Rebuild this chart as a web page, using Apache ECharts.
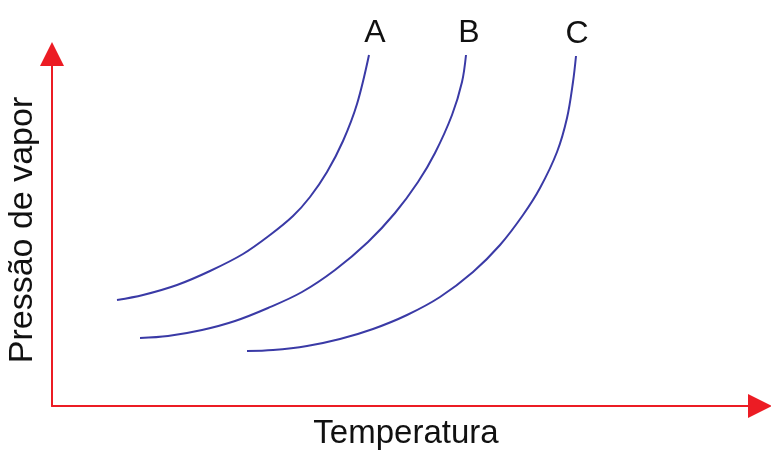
<!DOCTYPE html>
<html>
<head>
<meta charset="utf-8">
<script src="https://cdn.jsdelivr.net/npm/echarts@6/dist/echarts.min.js"></script>
<style>html,body{margin:0;padding:0;background:#fff}#c{width:771px;height:450px}</style>
</head>
<body>
<div id="c"></div>
<script>
// Curve data: [temperature, vapour pressure] in arbitrary units
const curveNames = ['A', 'B', 'C'];
const curveA = [[65,106],[91,111],[125,121],[158,135],[191,152],[218,171],[241,190],[258,209],[275,234],[291,265],[305,302],[317,351]];
const curveB = [[88,68],[116,70],[150,76],[183,85],[216,98],[250,114],[283,136],[316,164],[343,193],[366,224],[383,253],[400,291],[410,324],[414,351]];
const curveC = [[195,55],[221,56],[255,60],[288,67],[321,77],[355,91],[388,109],[421,134],[448,161],[471,191],[488,218],[505,254],[515,288],[521,324],[524,350]];
const xAxisName = 'Temperatura';
const yAxisName = 'Pressão de vapor';

const curves = [curveA, curveB, curveC];
const labelOffsets = [[6,0],[3,0],[1,0]];
const FONT = '"Liberation Sans", Arial, sans-serif';
const red = '#ec1c24';
const blue = '#3a3aa6';

const chart = echarts.init(document.getElementById('c'), null, {renderer: 'canvas'});
const axisCommon = (name, size) => ({
  type: 'value',
  name: name,
  nameLocation: 'middle',
  nameTextStyle: {fontFamily: FONT, fontSize: size, color: '#111'},
  axisLine: {show: true, symbol: ['none', 'triangle'], symbolSize: [24, 24], lineStyle: {color: red, width: 2}},
  axisTick: {show: false},
  axisLabel: {show: false},
  splitLine: {show: false}
});
chart.setOption({
  animation: false,
  backgroundColor: '#fff',
  grid: {left: 52, right: 11, top: 54, bottom: 44, containLabel: false, outerBoundsMode: 'none'},
  xAxis: Object.assign(axisCommon(xAxisName, 33), {min: 0, max: 708, nameGap: 11}),
  yAxis: Object.assign(axisCommon(yAxisName, 34), {min: 0, max: 352, nameGap: 12}),
  series: curves.map((d, i) => ({
    type: 'line',
    name: curveNames[i],
    data: d,
    smooth: 0.35,
    showSymbol: true,
    symbol: 'circle',
    symbolSize: 0,
    lineStyle: {color: blue, width: 2},
    itemStyle: {color: blue},
    label: {
      show: true,
      position: 'top',
      distance: 6,
      offset: labelOffsets[i],
      fontFamily: FONT,
      fontSize: 32,
      color: '#111',
      formatter: (p) => p.dataIndex === d.length - 1 ? curveNames[i] : ''
    }
  }))
});
</script>
</body>
</html>
